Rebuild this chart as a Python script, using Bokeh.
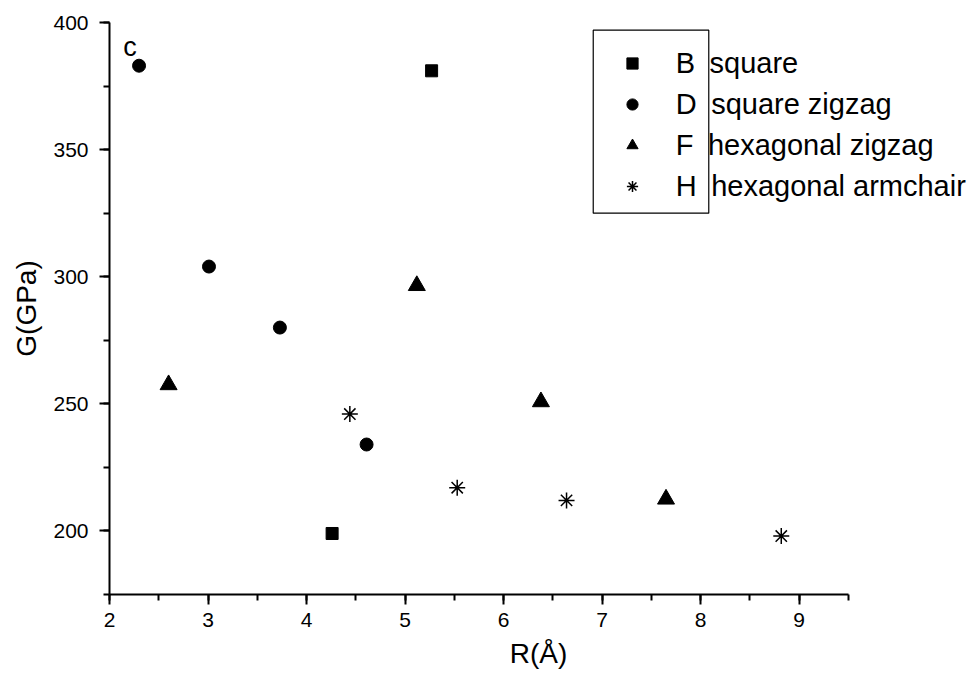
from bokeh.plotting import figure
from bokeh.models import (Range1d, SingleIntervalTicker, Legend, LegendItem,
                          BoxAnnotation, Label)
from bokeh.embed import file_html
from bokeh.resources import INLINE

# ---- data ----
B_x = [5.27, 4.26]
B_y = [381, 199]
D_x = [2.30, 3.01, 3.73, 4.61]
D_y = [383, 304, 280, 234]
F_x = [2.60, 5.12, 6.38, 7.65]
F_y = [257.5, 296.5, 250.8, 212.5]
H_x = [4.44, 5.53, 6.64, 8.82]
H_y = [246, 217, 212, 198]

labels = ["B\u2002square", "D\u2002square zigzag", "F\u2002hexagonal zigzag", "H\u2002hexagonal armchair"]

x_axis_span = (2, 9.5)
FONT = "Liberation Sans"

# frame spans to the right edge so the overflowing legend text is not clipped;
# the x axis itself is bounded to 2..9.5
p = figure(width=967, height=680, output_backend="svg", toolbar_location=None,
           x_range=Range1d(2, 2 + 858 / 98.5), y_range=Range1d(175, 400),
           min_border_left=109, min_border_right=0,
           min_border_top=22, min_border_bottom=86)
p.outline_line_color = None
p.xgrid.visible = False
p.ygrid.visible = False
p.background_fill_color = "white"
p.border_fill_color = "white"

p.xaxis.ticker = SingleIntervalTicker(interval=1, num_minor_ticks=2)
p.yaxis.ticker = SingleIntervalTicker(interval=50, num_minor_ticks=2)
p.xaxis.bounds = x_axis_span

for ax in (p.xaxis, p.yaxis):
    ax.axis_line_width = 2
    ax.axis_line_color = "black"
    ax.major_tick_line_width = 2
    ax.minor_tick_line_width = 2
    ax.major_tick_line_color = "black"
    ax.minor_tick_line_color = "black"
    ax.major_tick_out = 10
    ax.major_tick_in = 0
    ax.minor_tick_out = 6
    ax.minor_tick_in = 0
    ax.major_label_text_font = FONT
    ax.major_label_text_font_size = "21px"
    ax.major_label_text_color = "black"
    ax.axis_label_text_font = FONT
    ax.axis_label_text_font_size = "28px"
    ax.axis_label_text_font_style = "normal"
    ax.axis_label_text_color = "black"

p.xaxis.axis_label = "R(Å)"
p.yaxis.axis_label = "G(GPa)"
p.xaxis.major_label_standoff = 8
p.xaxis.axis_label_standoff = 8
p.yaxis.major_label_standoff = 11
p.yaxis.axis_label_standoff = 8

rB = p.scatter(B_x, B_y, marker="square", size=12, color="black")
rD = p.scatter(D_x, D_y, marker="circle", size=13, color="black")
rF = p.scatter(F_x, F_y, marker="triangle", size=17, color="black")
rH = p.scatter(H_x, H_y, marker="asterisk", size=16, line_color="black", line_width=1.5)

legend = Legend(
    items=[LegendItem(label=labels[0], renderers=[rB]),
           LegendItem(label=labels[1], renderers=[rD]),
           LegendItem(label=labels[2], renderers=[rF]),
           LegendItem(label=labels[3], renderers=[rH])],
    location=(508.7, 388), orientation="vertical",
    background_fill_alpha=0, border_line_color=None,
    padding=0, margin=0, spacing=1,
    glyph_width=28, glyph_height=40, label_height=40, label_standoff=30,
    label_text_font=FONT, label_text_font_size="29px", label_text_color="black",
)
p.add_layout(legend)

box = BoxAnnotation(left=6.911, right=8.084, bottom=325.0, top=397.0,
                    fill_color=None, fill_alpha=0, line_color="black",
                    line_alpha=1, line_width=1.2, level="overlay")
p.add_layout(box)

p.add_layout(Label(x=2.14, y=390.2, text="c", text_font=FONT, text_font_size="27px",
                   text_color="black", text_baseline="alphabetic"))

open("out.html", "w").write(file_html(p, INLINE))
